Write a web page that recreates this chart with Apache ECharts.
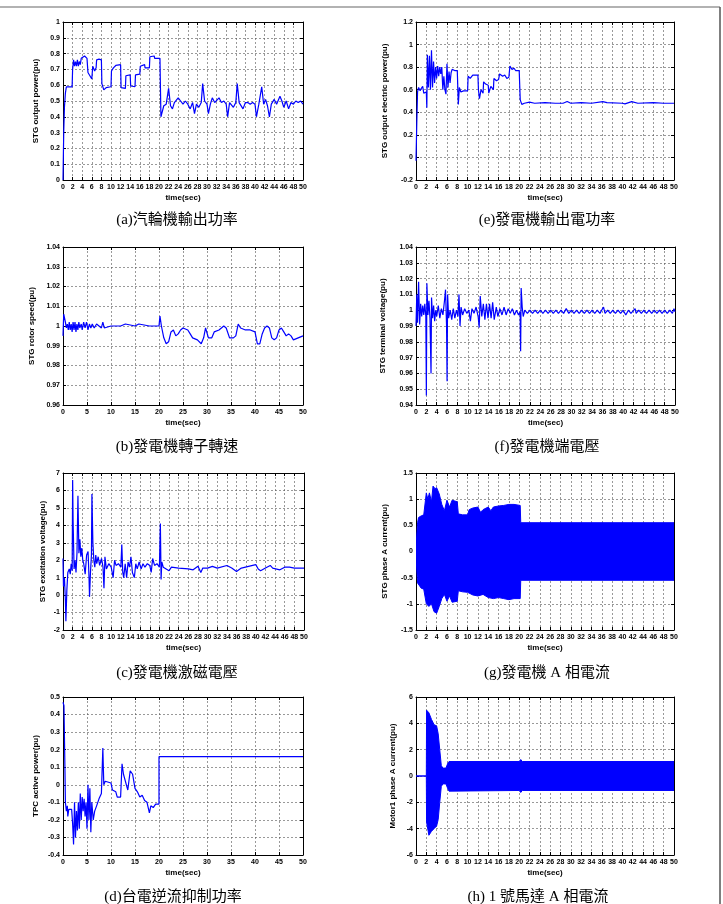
<!DOCTYPE html>
<html>
<head>
<meta charset="utf-8">
<script src="https://cdn.jsdelivr.net/npm/echarts@6/dist/echarts.min.js"></script>
<style>
  html, body { margin: 0; padding: 0; background: #fff; }
  #chart { width: 723px; height: 904px; }
</style>
</head>
<body>
<div id="chart"></div>
<script>
// (a) STG output power, [time, pu]
const aPower = [[0,0],[0.15,0.3],[0.3,0.46],[0.5,0.55],[0.7,0.59],[1.0,0.585],[1.9,0.59],[2.0,0.70],[2.2,0.76],[2.4,0.72],[2.6,0.75],[2.8,0.72],[3.0,0.76],[3.2,0.72],[3.4,0.75],[3.6,0.73],[3.8,0.77],[4.0,0.78],[4.5,0.785],[5.0,0.77],[5.2,0.68],[5.6,0.66],[6.0,0.64],[6.2,0.72],[6.6,0.69],[6.9,0.71],[7.0,0.76],[7.5,0.765],[8.0,0.76],[8.1,0.61],[8.5,0.57],[9.0,0.585],[10.0,0.59],[10.1,0.69],[10.5,0.71],[11.0,0.725],[12.0,0.73],[12.1,0.585],[13.0,0.58],[13.1,0.66],[14.0,0.665],[14.1,0.595],[15.0,0.59],[15.1,0.665],[16.0,0.67],[16.1,0.72],[17.0,0.73],[17.1,0.71],[18.0,0.71],[18.1,0.78],[19.0,0.785],[19.1,0.77],[20.2,0.77],[20.4,0.40],[20.6,0.40],[21.0,0.47],[21.5,0.48],[22.0,0.58],[22.4,0.47],[22.8,0.45],[23.2,0.49],[23.6,0.48],[24.0,0.52],[24.5,0.50],[25.0,0.48],[25.5,0.50],[26.0,0.48],[26.5,0.45],[27.0,0.49],[27.4,0.42],[27.8,0.48],[28.3,0.46],[28.8,0.49],[29.1,0.61],[29.5,0.50],[30.0,0.48],[30.3,0.42],[30.7,0.48],[31.1,0.52],[31.6,0.49],[32.0,0.48],[32.5,0.52],[33.0,0.49],[33.5,0.50],[34.0,0.48],[34.3,0.40],[34.7,0.49],[35.1,0.50],[35.5,0.46],[36.0,0.49],[36.3,0.61],[36.7,0.49],[37.1,0.48],[37.5,0.45],[38.0,0.49],[38.5,0.49],[39.0,0.48],[39.5,0.49],[40.0,0.48],[40.3,0.40],[40.8,0.48],[41.4,0.59],[41.8,0.48],[42.2,0.51],[42.6,0.47],[43.0,0.40],[43.4,0.48],[44.0,0.51],[44.5,0.48],[45.2,0.53],[45.6,0.50],[46.0,0.46],[46.5,0.50],[47.0,0.45],[47.5,0.49],[48.0,0.48],[48.5,0.50],[49.0,0.49],[49.5,0.50],[50.0,0.48]];

// (e) STG output electric power
const ePower = [[0,-0.03],[0.15,0.3],[0.3,0.58],[0.5,0.62],[0.8,0.59],[1.0,0.61],[1.3,0.63],[1.5,0.57],[1.8,0.56],[2.0,0.58],[2.1,0.44],[2.2,0.91],[2.4,0.62],[2.6,0.9],[2.8,0.6],[3.0,0.95],[3.2,0.62],[3.4,0.85],[3.6,0.66],[3.8,0.8],[4.0,0.7],[4.2,0.81],[4.4,0.72],[4.6,0.8],[4.8,0.74],[5.0,0.8],[5.2,0.6],[5.4,0.72],[5.6,0.6],[5.8,0.56],[6.0,0.83],[6.2,0.62],[6.4,0.76],[6.6,0.66],[6.8,0.75],[7.0,0.78],[7.5,0.77],[8.0,0.77],[8.2,0.47],[8.4,0.62],[8.7,0.58],[9.2,0.59],[10.0,0.59],[10.1,0.72],[10.5,0.7],[11.0,0.73],[12.0,0.73],[12.1,0.6],[12.3,0.52],[12.6,0.6],[13.0,0.57],[13.1,0.67],[13.5,0.65],[14.0,0.64],[14.1,0.57],[14.5,0.63],[15.0,0.6],[15.1,0.7],[15.6,0.68],[16.0,0.69],[16.2,0.74],[16.8,0.72],[17.2,0.73],[17.6,0.7],[18.0,0.71],[18.2,0.81],[18.6,0.78],[19.0,0.79],[19.3,0.77],[20.0,0.77],[20.2,0.51],[20.5,0.47],[21.0,0.48],[22.0,0.49],[23.0,0.48],[25.0,0.485],[27.0,0.48],[28.5,0.48],[29.3,0.495],[30.0,0.48],[32.0,0.485],[34.0,0.48],[36.2,0.495],[37.0,0.485],[40.0,0.48],[40.5,0.475],[41.8,0.495],[43.0,0.48],[46.0,0.485],[48.0,0.48],[50.0,0.48]];

// (b) STG rotor speed
const bSpeed = [[0,0.995],[0.15,1.006],[0.35,1.007],[0.5,1.002],[0.7,0.999],[0.9,1.001],[1.1,0.998],[1.3,1.002],[1.5,0.998],[1.7,1.001],[1.9,0.997],[2.1,1.002],[2.3,0.998],[2.5,1.002],[2.7,0.997],[2.9,1.001],[3.1,0.998],[3.3,1.002],[3.5,0.999],[3.8,1.001],[4.0,0.998],[4.3,1.002],[4.6,0.999],[4.9,1.002],[5.2,0.998],[5.5,1.001],[5.8,0.999],[6.1,1.001],[6.5,0.999],[7.0,1.001],[7.5,1.0],[8.0,0.999],[8.3,1.002],[8.6,0.999],[9.0,1.0],[10,1.0],[12,1.0],[13,1.001],[13.3,1.0],[15,1.0],[15.8,1.001],[16.2,1.0],[18,1.0],[20,1.0],[20.2,1.005],[20.5,1.0],[21.0,0.994],[21.5,0.991],[22.0,0.992],[22.5,0.997],[23.0,0.998],[23.5,0.995],[24.0,0.996],[24.5,0.998],[25.0,0.999],[26.0,0.998],[26.5,0.996],[27.0,0.994],[28.0,0.993],[28.8,0.991],[29.3,0.994],[29.7,0.999],[30.3,0.994],[31.0,0.994],[31.5,0.997],[32.5,0.998],[33.5,1.0],[34.0,0.999],[34.7,0.994],[35.5,0.994],[36.0,0.995],[36.5,1.001],[37.0,0.999],[38.0,0.998],[39.0,0.998],[40.0,0.997],[40.5,0.991],[41.0,0.991],[41.5,0.996],[42.0,0.999],[42.5,1.0],[43.0,0.999],[43.5,0.994],[44.0,0.993],[44.5,0.994],[45.0,0.998],[45.5,0.999],[46.0,0.997],[46.5,0.995],[47.0,0.996],[47.5,0.995],[48.0,0.993],[49.0,0.994],[50.0,0.995]];

// (f) STG terminal voltage
const fVolt = [[0,0.99],[0.15,1.01],[0.3,0.992],[0.5,1.018],[0.7,0.991],[0.9,1.004],[1.1,0.996],[1.3,1.003],[1.5,0.997],[1.7,1.004],[1.9,0.996],[2.0,0.946],[2.1,1.017],[2.3,0.997],[2.5,1.006],[2.7,0.995],[2.9,0.96],[3.0,1.008],[3.2,0.995],[3.4,1.003],[3.6,0.993],[3.8,1.0],[4.0,0.996],[4.3,1.003],[4.6,0.995],[4.9,1.001],[5.2,0.997],[5.5,1.006],[5.7,1.013],[5.9,0.99],[6.0,0.955],[6.1,1.01],[6.3,0.995],[6.6,1.0],[6.9,0.994],[7.2,1.001],[7.5,0.995],[7.8,1.0],[8.1,0.996],[8.3,1.01],[8.5,0.99],[8.7,1.002],[9.0,0.997],[9.4,1.001],[9.8,0.998],[10.2,1.0],[10.5,0.993],[10.8,1.001],[11.2,0.998],[11.6,1.002],[12.0,0.996],[12.2,0.989],[12.4,1.009],[12.7,0.996],[13.0,1.004],[13.3,0.994],[13.6,1.004],[13.9,0.995],[14.2,1.004],[14.5,0.995],[14.8,1.005],[15.1,0.994],[15.5,1.002],[15.8,0.996],[16.2,1.001],[16.6,0.997],[17.0,1.002],[17.4,0.997],[17.8,1.001],[18.2,0.998],[18.6,1.001],[19.0,0.997],[19.4,1.0],[19.8,0.997],[20.1,0.999],[20.2,0.974],[20.3,1.014],[20.5,1.002],[20.7,0.996],[21.0,1.0],[21.5,0.998],[22.0,1.0],[22.5,0.998],[23.0,1.0],[23.5,0.998],[24.0,1.0],[24.5,0.998],[25.0,1.0],[25.5,0.998],[26.0,1.0],[26.5,0.998],[27.0,1.0],[27.5,0.998],[28.0,1.0],[28.5,0.998],[29.0,1.001],[29.5,0.998],[30.0,1.0],[30.5,0.998],[31.0,1.0],[31.5,0.998],[32.0,1.0],[32.5,0.998],[33.0,1.0],[33.5,0.998],[34.0,1.0],[34.5,0.998],[35.0,1.0],[35.5,0.998],[36.2,1.002],[36.5,0.998],[37.0,1.0],[37.5,0.998],[38.0,1.0],[38.5,0.998],[39.0,1.0],[39.5,0.998],[40.0,1.0],[40.5,0.997],[41.0,1.0],[41.5,0.998],[42.3,1.001],[42.5,0.998],[43.0,1.0],[43.5,0.998],[44.0,1.0],[44.5,0.998],[45.0,1.0],[45.5,0.998],[46.0,1.0],[46.5,0.998],[47.0,1.0],[47.5,0.998],[48.0,1.0],[48.5,0.998],[49.0,1.0],[49.5,0.998],[49.8,1.001],[50.0,0.999]];

// (c) STG excitation voltage
const cVolt = [[0,2.1],[0.1,0.5],[0.3,1.0],[0.5,-0.3],[0.6,-1.5],[0.8,0.3],[1.0,1.3],[1.3,1.5],[1.5,1.2],[1.7,1.8],[1.9,1.4],[2.0,6.6],[2.1,4.2],[2.3,1.5],[2.5,2.0],[2.7,1.3],[2.9,2.4],[3.1,5.7],[3.3,2.4],[3.5,3.2],[3.7,2.2],[3.9,2.7],[4.1,2.0],[4.3,1.8],[4.6,1.2],[4.9,2.3],[5.2,2.5],[5.4,1.0],[5.5,-0.1],[5.7,1.3],[5.9,2.3],[6.0,5.8],[6.2,3.0],[6.4,2.0],[6.6,1.6],[6.8,2.3],[7.0,1.8],[7.3,2.2],[7.6,1.7],[8.0,2.1],[8.3,1.6],[8.5,0.4],[8.7,2.2],[9.0,1.5],[9.5,1.8],[10.0,1.6],[10.4,1.0],[10.7,2.0],[11.0,1.7],[11.5,1.8],[12.0,1.6],[12.2,2.9],[12.4,1.3],[12.6,1.0],[12.9,1.8],[13.2,1.0],[13.5,1.9],[13.8,1.6],[14.1,2.2],[14.4,1.3],[14.8,1.0],[15.1,1.8],[15.4,1.5],[15.8,1.9],[16.2,1.5],[16.6,1.8],[17.0,1.6],[17.5,1.8],[18.0,1.7],[18.3,1.3],[18.6,2.1],[19.0,1.7],[19.5,1.8],[20.0,1.6],[20.2,4.1],[20.35,0.9],[20.5,1.9],[20.8,1.6],[21.0,1.55],[22.0,1.4],[22.5,1.6],[24.0,1.55],[26.0,1.5],[27.0,1.45],[28.0,1.65],[28.6,1.3],[29.0,1.55],[30.0,1.55],[31.0,1.65],[32.0,1.55],[34.0,1.7],[35.0,1.55],[36.0,1.35],[37.0,1.55],[40.0,1.75],[40.5,1.5],[41.0,1.4],[42.0,1.55],[43.0,1.7],[43.5,1.55],[45.0,1.45],[46.0,1.6],[47.0,1.6],[48.0,1.55],[50.0,1.55]];

// (g) STG phase A current, envelope
const gUpper = [[0,0.1],[0.3,0.55],[0.5,0.65],[1.0,0.68],[1.5,0.7],[2.0,1.12],[2.3,1.0],[2.6,1.12],[3.0,0.95],[3.3,1.25],[3.7,1.2],[4.0,1.22],[4.5,1.1],[5.0,0.9],[5.5,0.78],[6.0,0.98],[6.5,0.85],[7.0,0.98],[8.0,0.95],[8.2,0.72],[9.0,0.7],[10.0,0.7],[10.3,0.8],[11.0,0.83],[12.0,0.85],[12.5,0.75],[13.0,0.8],[14.0,0.85],[14.5,0.78],[15.0,0.85],[16.0,0.87],[17.0,0.88],[18.0,0.9],[19.0,0.9],[20.2,0.88],[20.3,0.55],[50.0,0.55]];
const gLower = [[0,-0.1],[0.3,-0.6],[1.0,-0.7],[1.5,-0.72],[2.0,-1.0],[2.5,-1.05],[3.0,-1.0],[3.5,-1.15],[4.0,-1.18],[4.5,-1.05],[5.0,-0.9],[5.5,-0.82],[6.0,-0.95],[6.5,-0.85],[7.0,-0.97],[8.0,-0.95],[8.2,-0.75],[9.0,-0.77],[10.0,-0.78],[11.0,-0.83],[12.0,-0.85],[13.0,-0.82],[14.0,-0.88],[15.0,-0.9],[16.0,-0.88],[17.0,-0.9],[18.0,-0.92],[19.0,-0.9],[20.2,-0.9],[20.3,-0.55],[50.0,-0.55]];

// (d) TPC active power
const dPower = [[0,0.47],[0.2,0.45],[0.4,0.1],[0.5,-0.1],[0.7,-0.15],[0.9,-0.12],[1.0,-0.18],[1.2,-0.14],[1.5,-0.15],[1.8,-0.14],[2.0,-0.22],[2.2,-0.34],[2.4,-0.1],[2.6,-0.3],[2.8,-0.15],[3.0,-0.26],[3.2,-0.1],[3.4,-0.25],[3.6,-0.05],[3.8,-0.2],[4.0,-0.07],[4.2,-0.15],[4.4,-0.08],[4.6,-0.18],[4.8,-0.1],[5.0,-0.25],[5.2,0.0],[5.4,-0.2],[5.6,-0.02],[5.8,-0.27],[6.0,-0.1],[6.3,-0.2],[6.6,-0.15],[7.0,-0.12],[7.5,-0.08],[8.0,-0.05],[8.3,0.21],[8.5,0.0],[8.8,0.02],[9.0,0.01],[10.0,0.01],[10.3,-0.03],[11.0,-0.04],[11.3,-0.07],[12.0,-0.07],[12.3,0.12],[12.6,0.06],[13.0,0.05],[13.5,-0.03],[14.0,0.08],[14.5,0.06],[15.0,-0.02],[15.5,-0.04],[16.0,-0.07],[16.5,-0.06],[17.0,-0.09],[17.5,-0.1],[18.0,-0.16],[18.3,-0.12],[18.8,-0.13],[19.3,-0.11],[20.0,-0.11],[20.0,0.16],[50.0,0.16]];

// (h) Motor1 phase A current, envelope
const hUpper = [[0,0],[2.0,0],[2.05,5.0],[2.5,4.8],[3.0,4.3],[3.5,3.9],[4.0,3.8],[4.3,3.2],[4.6,2.0],[4.9,0.8],[5.2,0.6],[5.8,0.6],[6.2,1.0],[6.4,1.1],[20.0,1.1],[20.3,1.25],[20.6,1.1],[50.0,1.1]];
const hLower = [[0,0],[2.0,0],[2.05,-3.5],[2.5,-4.5],[3.0,-4.2],[3.5,-4.0],[4.0,-3.8],[4.3,-3.3],[4.6,-2.0],[4.9,-0.8],[5.2,-0.6],[5.8,-0.6],[6.2,-1.0],[6.4,-1.15],[20.0,-1.1],[20.3,-1.25],[20.6,-1.1],[50.0,-1.1]];

const captions = ['(a)汽輪機輸出功率', '(e)發電機輸出電功率', '(b)發電機轉子轉速', '(f)發電機端電壓',
                  '(c)發電機激磁電壓', '(g)發電機 A 相電流', '(d)台電逆流抑制功率', '(h) 1 號馬達 A 相電流'];

const panels = [
    {grid: [63, 22, 240, 158], y: [0, 1, 0.1], dx: 2, name: 'STG output power(pu)', gap: 23, lines: [aPower]},
    {grid: [416, 22, 258, 158], y: [-0.2, 1.2, 0.2], dx: 2, name: 'STG output electric power(pu)', gap: 27, lines: [ePower]},
    {grid: [63, 247, 240, 158], y: [0.96, 1.04, 0.01], dx: 5, name: 'STG rotor speed(pu)', gap: 27, lines: [bSpeed]},
    {grid: [416, 247, 259, 158], y: [0.94, 1.04, 0.01], dx: 2, name: 'STG terminal voltage(pu)', gap: 29, lines: [fVolt]},
    {grid: [63, 473, 241, 157], y: [-2, 7, 1], dx: 2, name: 'STG excitation voltage(pu)', gap: 16, lines: [cVolt]},
    {grid: [416, 473, 258, 157], y: [-1.5, 1.5, 0.5], dx: 2, name: 'STG phase A current(pu)', gap: 27, band: [gUpper, gLower]},
    {grid: [63, 697, 240, 158], y: [-0.4, 0.5, 0.1], dx: 5, name: 'TPC active power(pu)', gap: 23, lines: [dPower]},
    {grid: [416, 697, 258, 158], y: [-6, 6, 2], dx: 2, name: 'Motor1 phase A current(pu)', gap: 19, band: [hUpper, hLower]}
];
const capPos = [[177, 220], [547, 220], [177, 447], [547, 447], [177, 673], [547, 673], [173, 897], [538, 897]];

const blue = '#0000ff';
const lbl = {fontSize: 7, fontWeight: 'bold', color: '#000', fontFamily: 'Liberation Sans'};
const nameStyle = {fontSize: 8, fontWeight: 'bold', color: '#000', fontFamily: 'Liberation Sans'};
const split = {show: true, lineStyle: {type: [2, 2], color: '#555', width: 0.6}};
const tick = {show: true, inside: true, length: 3, lineStyle: {color: '#000'}};
const line = {show: true, onZero: false, lineStyle: {color: '#000', width: 1}};

let grids = [], xAxes = [], yAxes = [], series = [], graphic = [];
panels.forEach(function (p, i) {
    grids.push({left: p.grid[0], top: p.grid[1], width: p.grid[2], height: p.grid[3]});
    // bottom / left axes carry labels and grid lines
    xAxes.push({type: 'value', gridIndex: i, min: 0, max: 50, interval: p.dx, position: 'bottom',
        axisLine: line, axisTick: tick, splitLine: split,
        axisLabel: Object.assign({margin: 4, interval: 0, hideOverlap: false}, lbl),
        name: 'time(sec)', nameLocation: 'middle', nameGap: 14, nameTextStyle: nameStyle});
    yAxes.push({type: 'value', gridIndex: i, min: p.y[0], max: p.y[1], interval: p.y[2], position: 'left',
        axisLine: line, axisTick: tick, splitLine: split,
        axisLabel: Object.assign({margin: 3}, lbl),
        name: p.name, nameLocation: 'middle', nameGap: p.gap, nameRotate: 90, nameTextStyle: nameStyle});
    // top / right axes only for the box and inner ticks
    xAxes.push({type: 'value', gridIndex: i, min: 0, max: 50, interval: p.dx, position: 'top',
        axisLine: line, axisTick: tick, splitLine: {show: false}, axisLabel: {show: false}});
    yAxes.push({type: 'value', gridIndex: i, min: p.y[0], max: p.y[1], interval: p.y[2], position: 'right',
        axisLine: line, axisTick: tick, splitLine: {show: false}, axisLabel: {show: false}});

    (p.lines || []).forEach(function (d) {
        series.push({type: 'line', xAxisIndex: 2 * i, yAxisIndex: 2 * i, data: d, showSymbol: false,
            lineStyle: {color: blue, width: 1.2}, z: 3});
    });
    if (p.band) {
        // dense AC waveform: fill between upper and lower envelope
        const upper = p.band[0], lower = p.band[1];
        series.push({type: 'custom', xAxisIndex: 2 * i, yAxisIndex: 2 * i, data: [[0, 0]], clip: true, z: 3,
            renderItem: function (params, api) {
                const pts = upper.map(function (d) { return api.coord(d); })
                    .concat(lower.slice().reverse().map(function (d) { return api.coord(d); }));
                return {type: 'polygon', shape: {points: pts},
                    style: {fill: blue, stroke: blue, lineWidth: 1}};
            }});
    }

    graphic.push({type: 'text', x: capPos[i][0], y: capPos[i][1],
        style: {text: captions[i], fill: '#000', fontSize: 15, align: 'center', verticalAlign: 'middle',
            fontFamily: '"Liberation Serif", "Noto Sans CJK TC"'}});
});

// outer frame of the figure
graphic.push({type: 'line', shape: {x1: 0, y1: 7, x2: 720, y2: 7}, style: {stroke: '#999', lineWidth: 1.5}});
graphic.push({type: 'line', shape: {x1: 720, y1: 7, x2: 720, y2: 904}, style: {stroke: '#555', lineWidth: 1.5}});

const chart = echarts.init(document.getElementById('chart'));
chart.setOption({
    animation: false,
    backgroundColor: '#fff',
    grid: grids,
    xAxis: xAxes,
    yAxis: yAxes,
    series: series,
    graphic: graphic
});
</script>
</body>
</html>
